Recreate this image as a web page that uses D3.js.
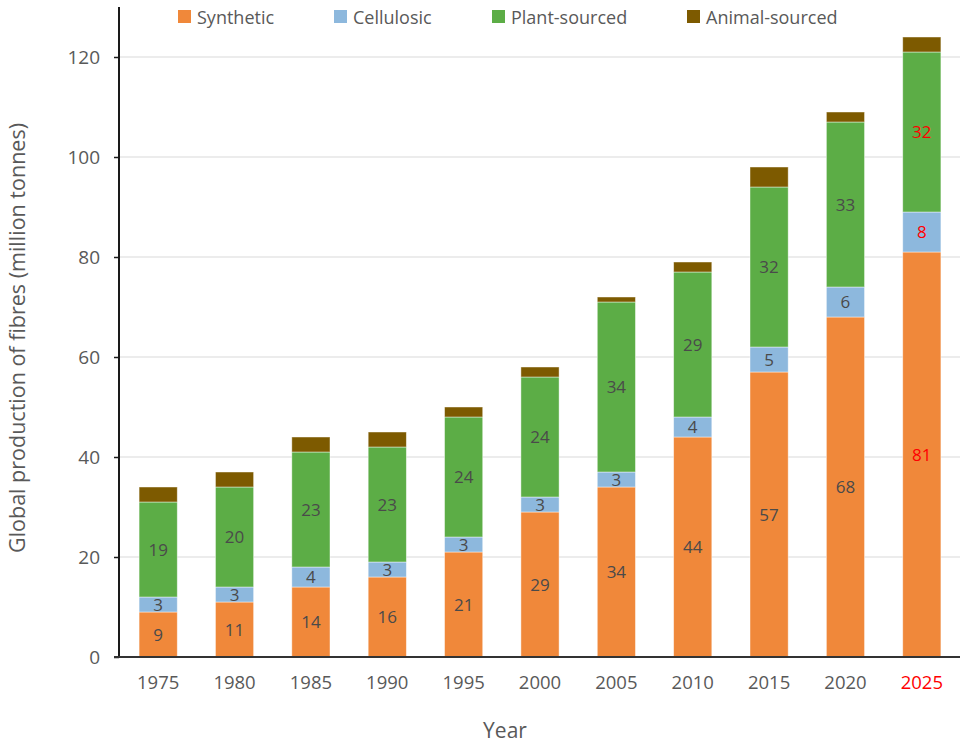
<!DOCTYPE html>
<html><head><meta charset="utf-8">
<script src="https://cdn.jsdelivr.net/npm/d3@7"></script>
<style>body{margin:0;background:#fff;} svg{display:block;font-family:"Open Sans",sans-serif;}</style>
</head><body>
<svg id="c" width="967" height="744"></svg>
<script>
const years = ["1975","1980","1985","1990","1995","2000","2005","2010","2015","2020","2025"];
const synthetic = [9,11,14,16,21,29,34,44,57,68,81];
const cellulosic = [3,3,4,3,3,3,3,4,5,6,8];
const plant = [19,20,23,23,24,24,34,29,32,33,32];
const animal = [3,3,3,3,2,2,1,2,4,2,3];
const seriesNames = ["Synthetic","Cellulosic","Plant-sourced","Animal-sourced"];
const seriesColors = ["#F0883A","#8DB8DD","#5CAD46","#7D5A00"];
const yTicks = [0,20,40,60,80,100,120];
const highlightYear = "2025";

const svg = d3.select("#c");
const x0 = 120, x1 = 960, yBase = 657, yTop = 7;
const x = d3.scaleBand().domain(years).range([x0,x1]).paddingInner(0.5).paddingOuter(0.25);
const y = d3.scaleLinear().domain([0,120]).range([yBase,57]);

// gridlines
svg.append("g").selectAll("line").data(yTicks.filter(d=>d>0)).join("line")
  .attr("x1",x0).attr("x2",x1).attr("y1",d=>y(d)).attr("y2",d=>y(d))
  .attr("stroke","#d9d9d9").attr("stroke-width",1.2);

const rows = years.map((yr,i)=>({year:yr, s0:synthetic[i], s1:cellulosic[i], s2:plant[i], s3:animal[i]}));
const stack = d3.stack().keys(["s0","s1","s2","s3"])(rows);

const g = svg.append("g");
stack.forEach((layer,li)=>{
  g.append("g").selectAll("rect").data(layer).join("rect")
    .attr("x",d=>x(d.data.year)).attr("width",x.bandwidth())
    .attr("y",d=>y(d[1])).attr("height",d=>y(d[0])-y(d[1]))
    .attr("fill",seriesColors[li]).attr("stroke","#fff").attr("stroke-opacity",0.55).attr("stroke-width",0.8);
  if(li<3){
    g.append("g").selectAll("text").data(layer).join("text")
      .attr("x",d=>x(d.data.year)+x.bandwidth()/2)
      .attr("y",d=>(y(d[0])+y(d[1]))/2)
      .attr("dy","0.36em").attr("text-anchor","middle")
      .attr("font-size",17)
      .attr("fill",d=>d.data.year===highlightYear?"#ff0000":"#4a4a4a")
      .text(d=>d[1]-d[0]);
  }
});

// y axis
const ya = svg.append("g").attr("transform",`translate(${x0-1},0)`)
  .call(d3.axisLeft(y).tickValues(yTicks).tickSize(5).tickPadding(14));
ya.select(".domain").attr("d",`M0,${yBase}V${yTop}`).attr("stroke","#1a1a1a").attr("stroke-width",2);
ya.selectAll(".tick line").attr("stroke","#1a1a1a").attr("stroke-width",1.5);
ya.selectAll(".tick text").attr("font-size",19).attr("fill","#595959").attr("font-family","Open Sans, sans-serif");

// x axis
const xa = svg.append("g").attr("transform",`translate(0,${yBase})`)
  .call(d3.axisBottom(x).tickSize(0).tickPadding(19));
xa.select(".domain").attr("d",`M${x0-6},0H${x1}`).attr("stroke","#333").attr("stroke-width",2);
xa.selectAll(".tick text").attr("font-size",18.5).attr("font-family","Open Sans, sans-serif")
  .attr("fill",d=>d===highlightYear?"#ff0000":"#595959");

// axis titles
svg.append("text").attr("x",505).attr("y",738).attr("text-anchor","middle")
  .attr("font-size",21).attr("fill","#595959").text("Year");
svg.append("text").attr("transform","translate(25,338) rotate(-90)").attr("text-anchor","middle")
  .attr("font-size",21.5).attr("fill","#595959").text("Global production of fibres (million tonnes)");

// legend
const legX = [178,334,492,687];
const leg = svg.append("g").selectAll("g").data(seriesNames).join("g")
  .attr("transform",(d,i)=>`translate(${legX[i]},10)`);
leg.append("rect").attr("width",13).attr("height",13).attr("fill",(d,i)=>seriesColors[i]);
leg.append("text").attr("x",19).attr("y",13.5).attr("font-size",18).attr("fill","#595959").text(d=>d);
</script>
</body></html>
